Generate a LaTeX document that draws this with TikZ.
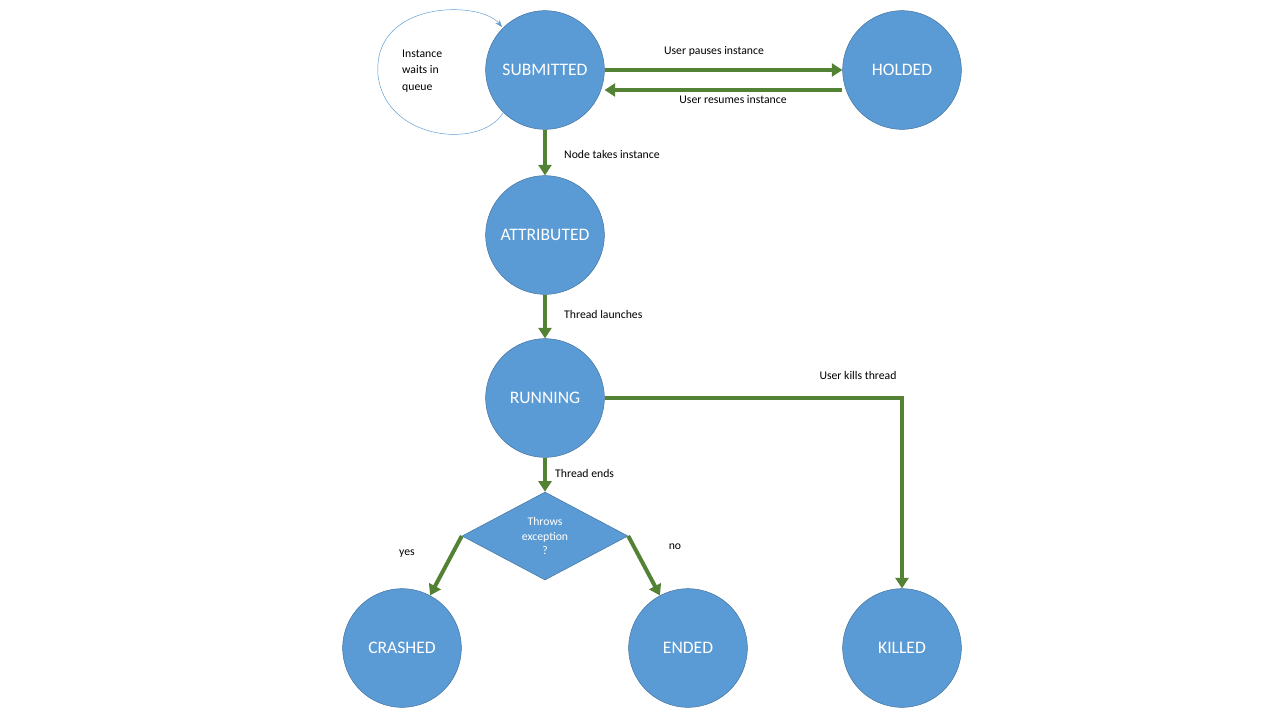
\documentclass[tikz,border=0pt]{standalone}
\usepackage{fontspec}
\setmainfont{Carlito}
\usepackage{tikz}
\usetikzlibrary{shapes.geometric,arrows.meta,positioning}

\definecolor{statefill}{HTML}{5B9BD5}
\definecolor{stateline}{HTML}{41719C}
\definecolor{flowgreen}{HTML}{548235}

\tikzset{
  state/.style={circle, draw=stateline, fill=statefill, minimum size=3.56cm,
    inner sep=0pt, text=white, font=\fontsize{15}{18}\selectfont},
  test/.style={diamond, draw=stateline, fill=statefill, minimum width=4.98cm,
    minimum height=2.64cm, inner sep=0pt, aspect=1.9, text=white,
    align=center, font=\fontsize{10}{12}\selectfont},
  flow/.style={draw=flowgreen, line width=3.4pt,
    -{Triangle[length=9pt,width=11pt]}},
  lbl/.style={font=\fontsize{10}{12}\selectfont, inner sep=0pt},
}

\begin{document}
\begin{tikzpicture}[x=0.03cm,y=-0.03cm]
        \useasboundingbox (0,0) rectangle (1280,720);

        % States
        \node[state] (submitted) at (545,70) {SUBMITTED};
        \node[state] (holded) at (902,70) {HOLDED};
        \node[state] (attributed) at (545,235) {ATTRIBUTED};
        \node[state] (running) at (545,398) {RUNNING};
        \node[test] (throws) at (545,536) {Throws\\exception\\?};
        \node[state] (crashed) at (402,648) {CRASHED};
        \node[state] (ended) at (688,648) {ENDED};
        \node[state] (killed) at (902,648) {KILLED};

        % Waiting loop
        \draw[statefill, thin, -{Stealth[length=6pt]}] (503,113)
            .. controls (480,150) and (385,140) .. (378,75)
            .. controls (372,0) and (480,0) .. (502,27);
        \node[lbl, align=left, anchor=west] (waits) at (402,71)
            {Instance\\[2pt]waits in\\[2pt]queue};

        % Transitions
        \draw[flow] (submitted.east) -- (holded.west);
        \draw[flow] (holded.west |- 0,90) -- (submitted.east |- 0,90);
        \node[lbl] (pauses) at (714,51) {User pauses instance};
        \node[lbl] (resumes) at (733,100) {User resumes instance};

        \draw[flow] (submitted) -- (attributed);
        \node[lbl, anchor=west] (takes) at (564,154) {Node takes instance};

        \draw[flow] (attributed) -- (running);
        \node[lbl, anchor=west] (launches) at (564,314) {Thread launches};

        \draw[flow] (running) -- (throws);
        \node[lbl, anchor=west] (ends) at (555,473) {Thread ends};

        \draw[flow] (running.east) -| (killed.north);
        \node[lbl] (kills) at (858,375) {User kills thread};

        \draw[flow] (throws.west) -- (crashed);
        \node[lbl] (yes) at (407,554) {yes};
        \draw[flow] (throws.east) -- (ended);
        \node[lbl] (no) at (675,547) {no};
    \end{tikzpicture}
\end{document}
